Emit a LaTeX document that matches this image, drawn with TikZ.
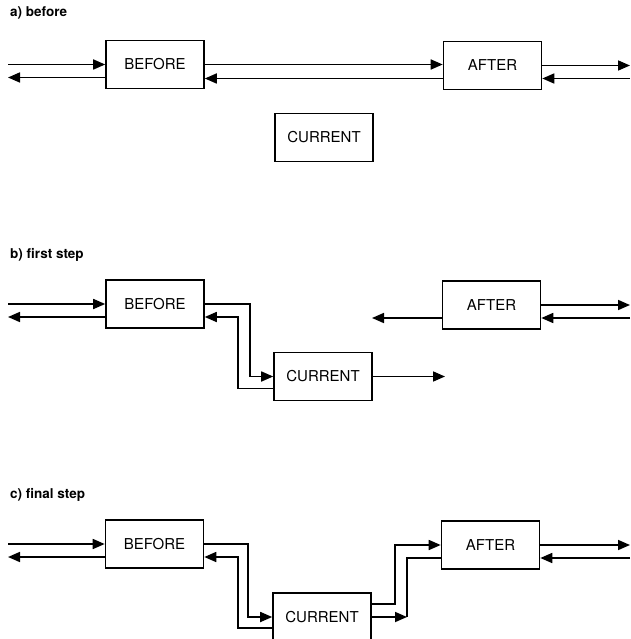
\documentclass[tikz,border=0pt]{standalone}
\usepackage{fontspec}
\setmainfont{TeX Gyre Heros}
\usetikzlibrary{arrows.meta}
\begin{document}
\begin{tikzpicture}[x=1pt,y=-1pt,
  box/.style={draw, line width=1.6pt, minimum width=98pt, minimum height=48pt,
              inner sep=0pt, font=\fontsize{15}{18}\selectfont},
  wire/.style={line width=1.7pt},
  arr/.style={line width=1.7pt, -{Triangle[length=12pt,width=10pt]}},
  lbl/.style={anchor=base west, inner sep=0pt, font=\bfseries\fontsize{13.5}{16}\selectfont}]
\useasboundingbox[fill=white] (0,0) rectangle (630,639);

% ---------------- a) before ----------------
\node[lbl] (la) at (10,17) {a) before};
\node[box] (bA) at (155,64.5) {BEFORE};
\node[box] (aA) at (492.5,65.5) {AFTER};
\node[box] (cA) at (324,137.5) {CURRENT};
\coordinate (lA) at (8,0);
\coordinate (rA) at (630,0);
\coordinate (bAlo) at ([yshift=-13pt]bA.west);
\coordinate (bAlo2) at ([yshift=-13pt]bA.east);
\coordinate (aAlo) at ([yshift=-13pt]aA.west);
\coordinate (aAlo2) at ([yshift=-13pt]aA.east);
\draw[arr] (bA.west -| lA) -- (bA.west);
\draw[arr] (bAlo) -- (bAlo -| lA);
\draw[arr] (bA.east) -- (bA.east -| aA.west);
\draw[arr] (aAlo) -- (aAlo -| bA.east);
\draw[arr] (aA.east) -- (aA.east -| rA);
\draw[arr] (aAlo2 -| rA) -- (aAlo2);

% ---------------- b) first step ----------------
\node[lbl] (lb) at (10,258) {b) first step};
\node[box] (bB) at (155,304) {BEFORE};
\node[box] (aB) at (491.5,305) {AFTER};
\node[box] (cB) at (323,376.5) {CURRENT};
\coordinate (b1) at (250,0);
\coordinate (b2) at (238,0);
\coordinate (bBlo) at ([yshift=-13pt]bB.east);
\coordinate (bBlo2) at ([yshift=-13pt]bB.west);
\coordinate (cBlo) at ([yshift=-12pt]cB.west);
\coordinate (aBlo) at ([yshift=-13pt]aB.west);
\coordinate (aBlo2) at ([yshift=-13pt]aB.east);
\coordinate (cBend) at (445,0);
\coordinate (aBend) at (372,0);
\draw[arr] (bB.west -| lA) -- (bB.west);
\draw[arr] (bBlo2) -- (bBlo2 -| lA);
\draw[arr] (bB.east) -- (bB.east -| b1) -- (cB.west -| b1) -- (cB.west);
\draw[arr] (cBlo) -- (cBlo -| b2) -- (bBlo -| b2) -- (bBlo);
\draw[arr] (cB.east) -- (cB.east -| cBend);
\draw[arr] (aBlo) -- (aBlo -| aBend);
\draw[arr] (aB.east) -- (aB.east -| rA);
\draw[arr] (aBlo2 -| rA) -- (aBlo2);

% ---------------- c) final step ----------------
\node[lbl] (lc) at (10,498) {c) final step};
\node[box] (bC) at (154.5,544) {BEFORE};
\node[box] (aC) at (490.5,545) {AFTER};
\node[box] (cC) at (322,617) {CURRENT};
\coordinate (c1) at (248,0);
\coordinate (c2) at (238,0);
\coordinate (c3) at (395,0);
\coordinate (c4) at (407,0);
\coordinate (bClo) at ([yshift=-13pt]bC.east);
\coordinate (bClo2) at ([yshift=-13pt]bC.west);
\coordinate (cClo) at ([yshift=-11pt]cC.west);
\coordinate (cChi) at ([yshift=13pt]cC.east);
\coordinate (aClo) at ([yshift=-13pt]aC.west);
\coordinate (aClo2) at ([yshift=-13pt]aC.east);
\draw[arr] (bC.west -| lA) -- (bC.west);
\draw[arr] (bClo2) -- (bClo2 -| lA);
\draw[arr] (bC.east) -- (bC.east -| c1) -- (cC.west -| c1) -- (cC.west);
\draw[arr] (cClo) -- (cClo -| c2) -- (bClo -| c2) -- (bClo);
\draw[arr] (cChi) -- (cChi -| c3) -- (aC.west -| c3) -- (aC.west);
\draw[wire] (aClo) -- (aClo -| c4) -- (cC.east -| c4);
\draw[arr] (cC.east) -- (cC.east -| c4);
\draw[arr] (aC.east) -- (aC.east -| rA);
\draw[arr] (aClo2 -| rA) -- (aClo2);
\end{tikzpicture}
\end{document}
